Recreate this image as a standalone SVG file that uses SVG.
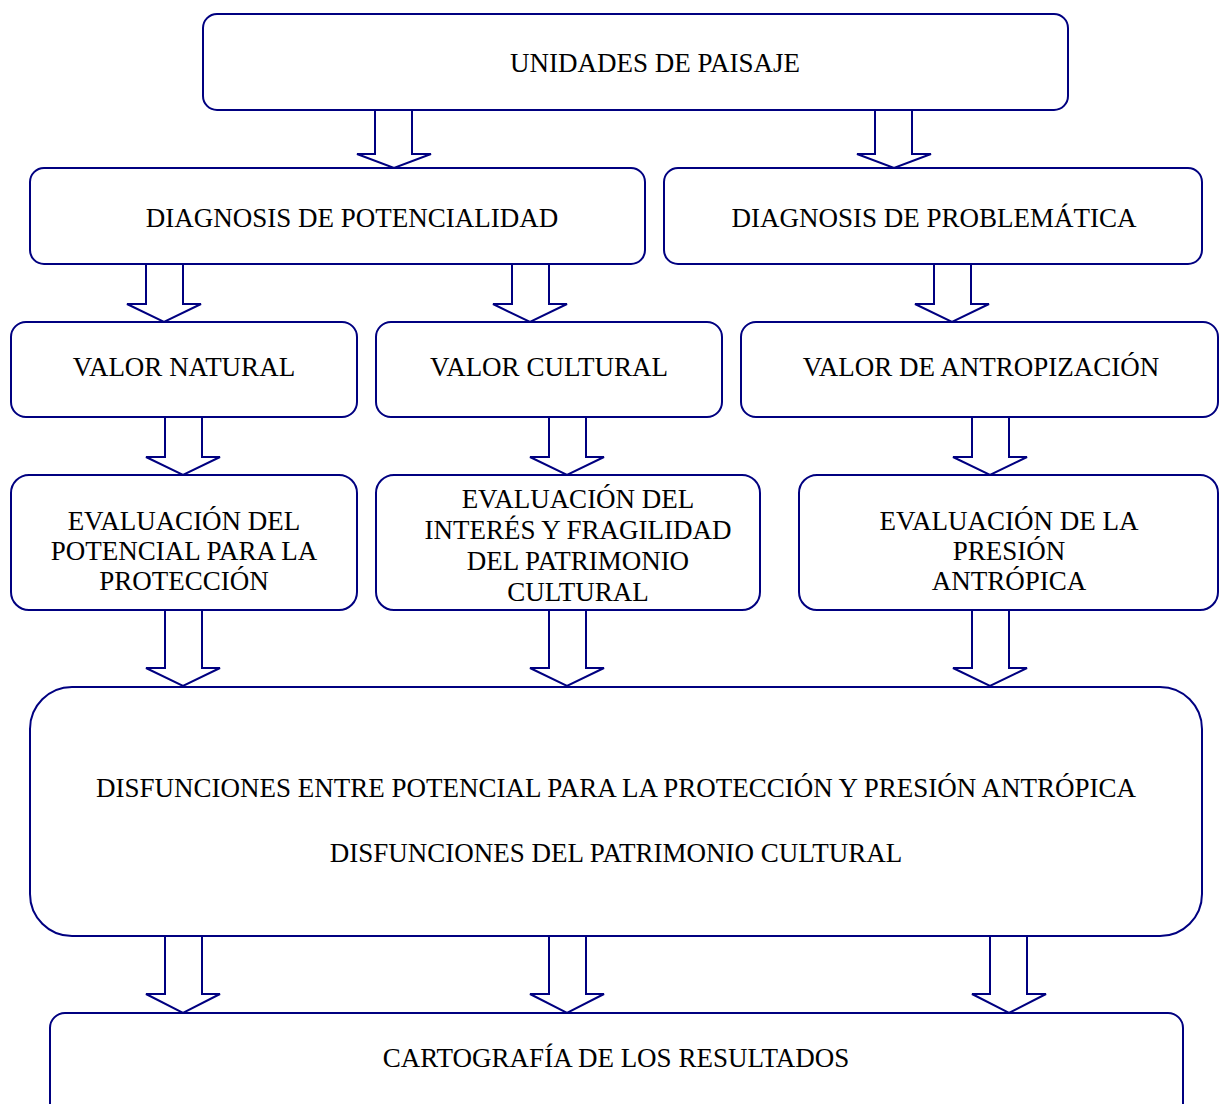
<svg xmlns="http://www.w3.org/2000/svg" width="1219" height="1104" viewBox="0 0 1219 1104">
  <style>
    .box { fill: #ffffff; stroke: #000080; stroke-width: 2; }
    .arrow { fill: #ffffff; stroke: #000080; stroke-width: 2; stroke-linejoin: miter; }
    text { font-family: "Liberation Serif", "Times New Roman", serif; font-size: 27px; fill: #000000; text-anchor: middle; }
  </style>
  <rect width="1219" height="1104" fill="#ffffff"/>

  <g id="n-unidades">
    <rect class="box" x="203" y="14" width="865" height="96" rx="14"/>
    <text x="655" y="72">UNIDADES DE PAISAJE</text>
  </g>

  <g id="n-diag-potencialidad">
    <rect class="box" x="30" y="168" width="615" height="96" rx="14"/>
    <text x="352" y="227">DIAGNOSIS DE POTENCIALIDAD</text>
  </g>

  <g id="n-diag-problematica">
    <rect class="box" x="664" y="168" width="538" height="96" rx="14"/>
    <text x="934" y="227">DIAGNOSIS DE PROBLEMÁTICA</text>
  </g>

  <g id="n-valor-natural">
    <rect class="box" x="11" y="322" width="346" height="95" rx="15"/>
    <text x="184" y="376">VALOR NATURAL</text>
  </g>

  <g id="n-valor-cultural">
    <rect class="box" x="376" y="322" width="346" height="95" rx="15"/>
    <text x="549" y="376">VALOR CULTURAL</text>
  </g>

  <g id="n-valor-antropizacion">
    <rect class="box" x="741" y="322" width="477" height="95" rx="15"/>
    <text x="981" y="376">VALOR DE ANTROPIZACIÓN</text>
  </g>

  <g id="n-eval-proteccion">
    <rect class="box" x="11" y="475" width="346" height="135" rx="18"/>
    <text x="184" y="530">EVALUACIÓN DEL</text>
    <text x="184" y="560">POTENCIAL PARA LA</text>
    <text x="184" y="590">PROTECCIÓN</text>
  </g>

  <g id="n-eval-patrimonio">
    <rect class="box" x="376" y="475" width="384" height="135" rx="18"/>
    <text x="578" y="508">EVALUACIÓN DEL</text>
    <text x="578" y="539">INTERÉS Y FRAGILIDAD</text>
    <text x="578" y="570">DEL PATRIMONIO</text>
    <text x="578" y="601">CULTURAL</text>
  </g>

  <g id="n-eval-presion">
    <rect class="box" x="799" y="475" width="419" height="135" rx="18"/>
    <text x="1009" y="530">EVALUACIÓN DE LA</text>
    <text x="1009" y="560">PRESIÓN</text>
    <text x="1009" y="590">ANTRÓPICA</text>
  </g>

  <g id="n-disfunciones">
    <rect class="box" x="30" y="687" width="1172" height="249" rx="42"/>
    <text x="616" y="797">DISFUNCIONES ENTRE POTENCIAL PARA LA PROTECCIÓN Y PRESIÓN ANTRÓPICA</text>
    <text x="616" y="862">DISFUNCIONES DEL PATRIMONIO CULTURAL</text>
  </g>

  <g id="n-cartografia">
    <rect class="box" x="50" y="1013" width="1133" height="110" rx="15"/>
    <text x="616" y="1067">CARTOGRAFÍA DE LOS RESULTADOS</text>
  </g>

  <!-- block arrows: stem 37 wide, head 74 wide -->
  <g id="connectors">
    <path class="arrow" d="M375 110 V154 H357 L394 168 L431 154 H412 V110 Z"/>
    <path class="arrow" d="M875 110 V154 H857 L894 168 L931 154 H912 V110 Z"/>

    <path class="arrow" d="M146 264 V304 H127 L164 322 L201 304 H183 V264 Z"/>
    <path class="arrow" d="M512 264 V304 H493 L530 322 L567 304 H549 V264 Z"/>
    <path class="arrow" d="M934 264 V304 H915 L952 322 L989 304 H971 V264 Z"/>

    <path class="arrow" d="M165 417 V457 H146 L183 475 L220 457 H202 V417 Z"/>
    <path class="arrow" d="M549 417 V457 H530 L567 475 L604 457 H586 V417 Z"/>
    <path class="arrow" d="M972 417 V457 H953 L990 475 L1027 457 H1009 V417 Z"/>

    <path class="arrow" d="M165 610 V668 H146 L183 686 L220 668 H202 V610 Z"/>
    <path class="arrow" d="M549 610 V668 H530 L567 686 L604 668 H586 V610 Z"/>
    <path class="arrow" d="M972 610 V668 H953 L990 686 L1027 668 H1009 V610 Z"/>

    <path class="arrow" d="M165 936 V994 H146 L183 1013 L220 994 H202 V936 Z"/>
    <path class="arrow" d="M549 936 V994 H530 L567 1013 L604 994 H586 V936 Z"/>
    <path class="arrow" d="M990 936 V994 H972 L1009 1013 L1046 994 H1027 V936 Z"/>
  </g>
</svg>
